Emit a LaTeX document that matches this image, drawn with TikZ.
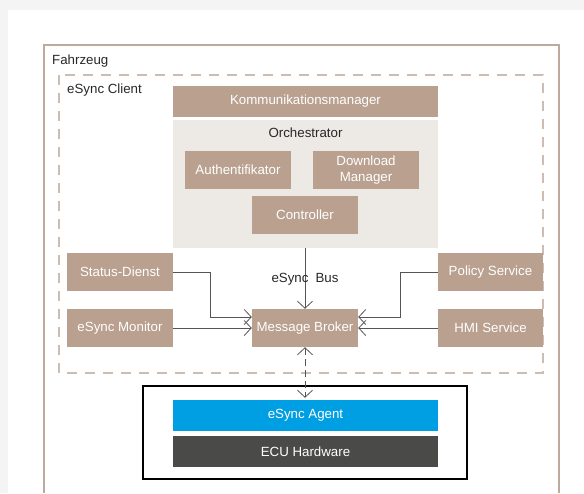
\documentclass[tikz,border=0pt]{standalone}
\usepackage{fontspec}
\setmainfont{Liberation Sans}
\usetikzlibrary{arrows.meta}
\definecolor{tan}{RGB}{185,160,143}
\definecolor{tanline}{RGB}{190,170,157}
\definecolor{tandash}{RGB}{205,188,178}
\definecolor{orchbg}{RGB}{237,233,229}
\definecolor{agentblue}{RGB}{0,159,227}
\definecolor{ecudark}{RGB}{74,74,72}
\definecolor{pagegrey}{RGB}{244,244,244}
\definecolor{linegrey}{RGB}{85,85,85}
\definecolor{txtdark}{RGB}{40,40,40}

\begin{document}
\begin{tikzpicture}[x=1pt,y=-1pt,>={Straight Barb[length=7pt,width=15pt]},
    font=\fontsize{13.3}{16}\selectfont]
    \tikzstyle{box}=[rectangle,fill=tan,text=white,inner sep=0pt,minimum width=106pt,minimum height=38pt,align=center]
    \tikzstyle{wide box}=[box,minimum width=265pt,minimum height=31pt]
    \tikzstyle{conn}=[->,draw=linegrey,line width=0.8pt]
    \tikzstyle{annot}=[text=txtdark,inner sep=0pt]

    % Background and frames
    \fill[pagegrey] (0,0) rectangle (584,493);
    \fill[white] (8,10) rectangle (584,493);
    \useasboundingbox (0,0) rectangle (584,493);
    \draw[tanline,line width=1.2pt] (44,493) -- (44,45) -- (559,45) -- (559,493);
    \node[annot,anchor=west] (fzg) at (52,61) {Fahrzeug};
    \draw[tandash,line width=1.2pt,dash pattern=on 10pt off 8pt] (59,75) rectangle (543,373);
    \node[annot,anchor=west] (client) at (67,90) {eSync Client};

    % Client components
    \node[wide box] (komm) at (305.5,101.5) {Kommunikationsmanager};
    \node[rectangle,fill=orchbg,minimum width=265pt,minimum height=128pt,inner sep=0pt] (orch) at (305.5,184) {};
    \node[annot] (orch-l) at (305.5,133) {Orchestrator};
    \node[box] (auth) at (238,170) {Authentifikator};
    \node[box] (dlm) at (366,170) {Download\\Manager};
    \node[box] (ctrl) at (305,215) {Controller};
    \node[box] (status) at (120,272) {Status-Dienst};
    \node[box] (monitor) at (120,328) {eSync Monitor};
    \node[box] (broker) at (305,328) {Message Broker};
    \node[box,minimum width=105pt] (policy) at (490.5,272) {Policy Service};
    \node[box,minimum width=105pt] (hmi) at (490.5,328) {HMI Service};

    % ECU
    \draw[black,line width=1.6pt] (143,386) rectangle (467,479);
    \node[wide box,fill=agentblue] (agent) at (305.5,415.5) {eSync Agent};
    \node[wide box,fill=ecudark] (ecu) at (305.5,451.5) {ECU Hardware};

    % Connectors
    \draw[conn] (broker.north |- orch.south) -- (broker.north);
    \node[annot] (bus) at (305,279) {eSync\hspace{7pt}Bus};
    \draw[conn] (status.east) -- (210,272) |- ([yshift=11pt]broker.west);
    \draw[conn] (monitor) -- (broker);
    \draw[conn] (policy.west) -- (400,272) |- ([yshift=11pt]broker.east);
    \draw[conn] (hmi) -- (broker);
    \draw[conn,<->,dash pattern=on 7pt off 4pt] (broker.south) -- ([yshift=2pt]agent.north -| broker.south);
\end{tikzpicture}
\end{document}
